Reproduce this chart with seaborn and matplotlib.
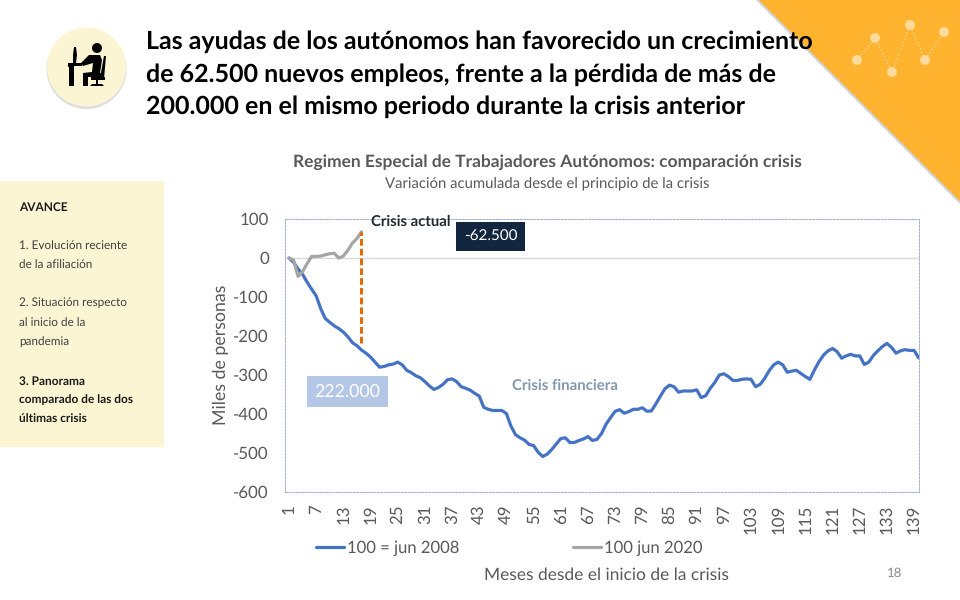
#!/usr/bin/env python3
# -*- coding: utf-8 -*-

import matplotlib
matplotlib.use("Agg")
import matplotlib.pyplot as plt
from matplotlib.lines import Line2D
from matplotlib.patches import Circle, Polygon, Rectangle
import pandas as pd
import seaborn as sns

# =========================
# Datos
# =========================
crisis_2008 = [
    0, -11, -28, -42, -62, -80, -97, -130, -155, -165,
    -174, -181, -190, -202, -217, -225, -236, -244, -254, -267,
    -280, -278, -274, -272, -267, -274, -288, -294, -302, -307,
    -317, -328, -337, -332, -324, -312, -310, -317, -330, -334,
    -339, -347, -354, -383, -388, -391, -391, -391, -399, -431,
    -453, -461, -467, -478, -481, -498, -509, -503, -491, -477,
    -463, -461, -473, -473, -468, -464, -458, -468, -465, -450,
    -426, -409, -393, -389, -398, -394, -388, -388, -384, -393,
    -392, -374, -354, -335, -326, -330, -344, -341, -341, -341,
    -338, -358, -353, -334, -319, -300, -297, -304, -314, -314,
    -311, -310, -311, -330, -324, -309, -289, -274, -267, -274,
    -293, -290, -288, -296, -304, -311, -287, -266, -249, -238,
    -232, -240, -257, -251, -247, -251, -251, -273, -267, -250,
    -238, -227, -219, -229, -244, -238, -235, -237, -237, -256,
]
crisis_2020 = [0, -5, -47, -35, -14, 4, 4, 5, 8, 11, 12, 0, 5, 20, 38, 50, 67]
month_ticks = list(range(1, 140, 6))
y_ticks = [100, 0, -100, -200, -300, -400, -500, -600]
label_2008 = "100 = jun 2008"
label_2020 = "100 jun 2020"

title_lines = [
    "Las ayudas de los autónomos han favorecido un crecimiento",
    "de 62.500 nuevos empleos, frente a la pérdida de más de",
    "200.000 en el mismo periodo durante la crisis anterior",
]

df = pd.concat([
    pd.DataFrame({"mes": range(1, len(crisis_2008) + 1), "valor": crisis_2008, "serie": label_2008}),
    pd.DataFrame({"mes": range(1, len(crisis_2020) + 1), "valor": crisis_2020, "serie": label_2020}),
])

# =========================
# Estilo
# =========================
sns.set_theme(style="white")
plt.rcParams["font.family"] = ["Lato", "DejaVu Sans"]
plt.rcParams["text.hinting"] = "no_hinting"

GREY_TEXT = "#595959"
CREAM = "#FBF5D3"
BORDER = "#9DB0CC"

fig = plt.figure(figsize=(9.6, 6), dpi=100, facecolor="white")

# Capa de fondo en pixeles para los adornos de la diapositiva
bg = fig.add_axes([0, 0, 1, 1], zorder=0)
bg.set_xlim(0, 960)
bg.set_ylim(600, 0)
bg.axis("off")

# Triangulo naranja con su sombra
bg.add_patch(Polygon([(756, 0), (960, 204), (960, 0)], fc="#B0B0B0", ec="none", alpha=0.6))
bg.add_patch(Polygon([(759, 0), (960, 201), (960, 0)], fc="#FFB32E", ec="none"))
dots_x = [857, 875, 892, 910, 925, 944]
dots_y = [60, 38, 72, 25, 60, 32]
bg.plot(dots_x, dots_y, color="#FFDB9B", lw=1, ls=(0, (1, 1.5)))
for dx, dy in zip(dots_x, dots_y):
    bg.add_patch(Circle((dx, dy), 5, fc="#FFDB9B", ec="none", zorder=3))

# Icono
bg.add_patch(Circle((86.5, 69), 40, fc="#C8C8C8", ec="none", alpha=0.6))
bg.add_patch(Circle((86.5, 67), 39.5, fc=CREAM, ec="none"))
bg.add_patch(Circle((97, 48), 5, fc="black", ec="none"))
bg.add_patch(Polygon([(89, 55), (100, 55), (102, 60), (100, 73), (104, 73), (104, 77),
                      (95, 77), (88, 77), (88, 86), (83, 86), (83, 73), (92, 72), (93, 63),
                      (83, 66), (81, 63)], fc="black", ec="none"))
bg.add_patch(Polygon([(104, 56), (106, 56), (104, 79), (101, 80), (100, 78)], fc="black", ec="none"))
bg.add_patch(Rectangle((91, 77), 14, 3, fc="black", ec="none"))
bg.add_patch(Rectangle((96, 80), 2, 5, fc="black", ec="none"))
bg.add_patch(Polygon([(90, 86), (104, 86), (102, 84), (92, 84)], fc="black", ec="none"))
bg.add_patch(Polygon([(68, 63), (82, 63), (82, 66), (74, 66), (74, 86), (69, 86), (69, 67), (68, 67)],
                     fc="black", ec="none"))
bg.add_patch(Polygon([(74, 47), (76, 47), (77, 55), (76, 63), (73, 63), (73, 55)], fc="black", ec="none"))

# Panel lateral
bg.add_patch(Rectangle((0, 181), 164, 266, fc=CREAM, ec="none"))
side_items = [
    (207, "AVANCE", "bold"),
    (246, "1. Evolución reciente", "normal"),
    (265, "de la afiliación", "normal"),
    (303, "2. Situación respecto", "normal"),
    (323, "al inicio de la", "normal"),
    (342, "pandemia", "normal"),
    (381, "3. Panorama", "bold"),
    (400, "comparado de las dos", "bold"),
    (419, "últimas crisis", "bold"),
]
for sy, txt, weight in side_items:
    bg.text(19, sy, txt, fontsize=8.6 if weight == "bold" else 8.5, fontweight=weight,
            va="center", ha="left", color="#1A1A1A" if weight == "bold" else "#404040")

# Titulos
for ty, line in zip([42, 75, 107], title_lines):
    bg.text(146, ty, line, fontsize=18, fontweight="bold", color="black", va="center", ha="left")
bg.text(547, 162, "Regimen Especial de Trabajadores Autónomos: comparación crisis",
        fontsize=12.5, fontweight="bold", color=GREY_TEXT, ha="center", va="center")
bg.text(547, 183, "Variación acumulada desde el principio de la crisis",
        fontsize=10.75, color=GREY_TEXT, ha="center", va="center")
bg.text(895, 573, "18", fontsize=9.5, color="#8C8C8C", ha="center", va="center")

# =========================
# Grafico
# =========================
ax = fig.add_axes([285 / 960, 1 - 492 / 600, 634 / 960, 273 / 600], zorder=1)
ax.patch.set_alpha(0)
sns.lineplot(data=df, x="mes", y="valor", hue="serie",
             palette={label_2008: "#4472C4", label_2020: "#A5A5A5"},
             linewidth=2.3, legend=False, ax=ax, zorder=3)

ax.axhline(0, color="#D9D9D9", lw=1, zorder=1)
ax.vlines(len(crisis_2020), -217, crisis_2020[-1], color="#E36C0A", lw=2.2,
          linestyles=(0, (2.2, 1)), zorder=4)

ax.set_xlim(0.116, 140.08)
ax.set_ylim(-600, 100)
ax.set_xticks(month_ticks)
ax.set_xticklabels(month_ticks, rotation=90, fontsize=12.2, color=GREY_TEXT)
ax.set_yticks(y_ticks)
ax.set_yticklabels(y_ticks, fontsize=12.2, color=GREY_TEXT)
ax.tick_params(axis="x", length=0, pad=9)
ax.tick_params(axis="y", length=0, pad=11.5)
ax.set_xlabel("")
ax.set_ylabel("")
for spine in ax.spines.values():
    spine.set_color(BORDER)
    spine.set_linewidth(0.7)
    spine.set_linestyle((0, (2, 1.5)))

# Etiquetas sobre el grafico
fg = fig.add_axes([0, 0, 1, 1], zorder=2)
fg.set_xlim(0, 960)
fg.set_ylim(600, 0)
fg.axis("off")
fg.text(221, 355, "Miles de personas", fontsize=12.8, color=GREY_TEXT, rotation=90, ha="center", va="center")
fg.text(371, 222, "Crisis actual", fontsize=10.7, fontweight="bold", color="#222B35", va="center")
fg.add_patch(Rectangle((456, 222), 69, 29, fc="#12263F", ec="none"))
fg.text(490.5, 236.5, "-62.500", fontsize=11, color="white", ha="center", va="center")
fg.add_patch(Rectangle((307, 376), 81, 31, fc="#B4C7E7", ec="none"))
fg.text(347.5, 392, "222.000", fontsize=12.8, color="white", ha="center", va="center")
fg.text(512, 386, "Crisis financiera", fontsize=10.8, fontweight="bold", color="#8497B0", va="center")
fg.text(606.5, 575, "Meses desde el inicio de la crisis", fontsize=12.55, color=GREY_TEXT, ha="center", va="center")

# Leyenda
handles = [Line2D([], [], color="#4472C4", lw=2.3), Line2D([], [], color="#A5A5A5", lw=2.3)]
fig.legend(handles, [label_2008, label_2020], ncol=2, frameon=False, fontsize=12,
           labelcolor=GREY_TEXT, loc="center left", bbox_to_anchor=(316 / 960, 1 - 548 / 600),
           borderpad=0, borderaxespad=0, handlelength=1.68, handletextpad=0.18, columnspacing=6.8)

fig.savefig("out.png", dpi=100)
